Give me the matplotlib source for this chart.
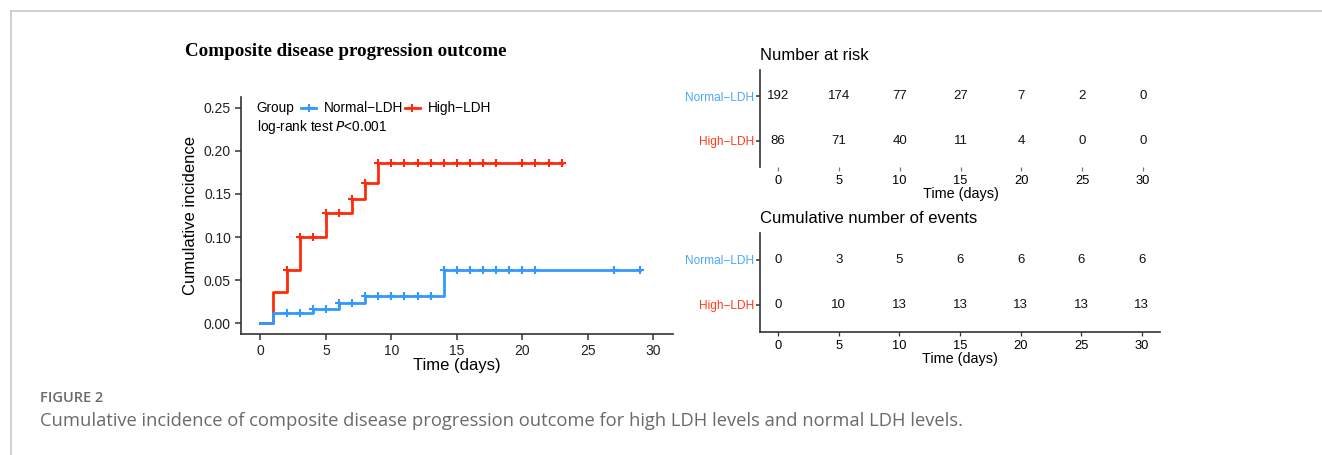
import numpy as np
import matplotlib
matplotlib.use("Agg")
import matplotlib.pyplot as plt
from matplotlib.lines import Line2D

# ---------------- data ----------------
groups = ["Normal\u2212LDH", "High\u2212LDH"]

high_times = [0, 1, 2, 3, 5, 7, 8, 9]
high_cuminc = [0.0, 0.0359, 0.0617, 0.1003, 0.128, 0.1443, 0.163, 0.1863]
high_end = 23
high_censor = [2, 3, 4, 5, 6, 7, 8, 9, 10, 11, 12, 13, 14, 15, 16, 17, 18, 20, 21, 22, 23]

normal_times = [0, 1, 4, 6, 8, 14]
normal_cuminc = [0.0, 0.0114, 0.0169, 0.0235, 0.0320, 0.0617]
normal_end = 29
normal_censor = [2, 3, 4, 5, 6, 7, 8, 9, 10, 11, 12, 13, 14, 15, 16, 17, 18, 19, 20, 21, 27, 29]

table_times = [0, 5, 10, 15, 20, 25, 30]
risk_normal = [192, 174, 77, 27, 7, 2, 0]
risk_high = [86, 71, 40, 11, 4, 0, 0]
events_normal = [0, 3, 5, 6, 6, 6, 6]
events_high = [0, 10, 13, 13, 13, 13, 13]

x_ticks = [0, 5, 10, 15, 20, 25, 30]
y_ticks = [0.00, 0.05, 0.10, 0.15, 0.20, 0.25]

# ---------------- style ----------------
BLUE = "#3399FF"
RED = "#FF2A0A"
BLUE_T = "#4DA6FF"
RED_T = "#FF3A1A"
AX = "#333333"
plt.rcParams["font.family"] = ["Liberation Sans", "DejaVu Sans"]

W, H = 1322, 455
fig = plt.figure(figsize=(W / 100, H / 100), dpi=100)


def px_axes(left, right, top, bottom):
    return fig.add_axes([left / W, 1 - bottom / H, (right - left) / W, (bottom - top) / H])


# frame decoration lines
fig.add_artist(Line2D([10.5 / W, 10.5 / W], [0, 1 - 11 / H], color="#c8c8c8", lw=1.2))
fig.add_artist(Line2D([10.5 / W, 1], [1 - 11 / H, 1 - 11 / H], color="#c8c8c8", lw=1.2))

# ---------------- main plot ----------------
ax = px_axes(240.7, 673, 97, 334)
for times, vals, end, cens, col in [
    (high_times, high_cuminc, high_end, high_censor, RED),
    (normal_times, normal_cuminc, normal_end, normal_censor, BLUE),
]:
    xs = list(times) + [end]
    ys = list(vals) + [vals[-1]]
    ax.step(xs, ys, where="post", color=col, lw=2.0, zorder=3 if col == RED else 4)
    idx = np.searchsorted(times, cens, side="right") - 1
    cy = np.array(vals)[idx]
    ax.plot(cens, cy, ls="none", marker="+", ms=6, mew=1.5, color=col, zorder=5)

ax.set_xlim(-1.5, 31.5)
ax.set_ylim(-0.0125, 0.2625)
ax.set_xticks(x_ticks)
ax.set_yticks(y_ticks)
ax.set_yticklabels([f"{v:.2f}" for v in y_ticks])
for s in ["top", "right"]:
    ax.spines[s].set_visible(False)
for s in ["left", "bottom"]:
    ax.spines[s].set_color(AX)
    ax.spines[s].set_linewidth(1.2)
ax.tick_params(axis="both", labelsize=10, length=4, width=1.1, color=AX, pad=3, labelcolor="#222222")
ax.set_xlabel("Time (days)", fontsize=12, labelpad=0)
ax.set_ylabel("Cumulative incidence", fontsize=12, labelpad=4)

# legend
tr = ax.transAxes
ax.text(0.037, 0.954, "Group", transform=tr, fontsize=9.8, va="center", ha="left")
ax.plot([0.139, 0.175], [0.954, 0.954], transform=tr, color=BLUE, lw=2.0, clip_on=False)
ax.plot([0.157], [0.954], transform=tr, color=BLUE, marker="+", ms=6, mew=1.5, clip_on=False)
ax.text(0.192, 0.954, groups[0], transform=tr, fontsize=9.8, va="center", ha="left")
ax.plot([0.379, 0.415], [0.954, 0.954], transform=tr, color=RED, lw=2.0, clip_on=False)
ax.plot([0.397], [0.954], transform=tr, color=RED, marker="+", ms=6, mew=1.5, clip_on=False)
ax.text(0.433, 0.954, groups[1], transform=tr, fontsize=9.8, va="center", ha="left")
ax.text(0.038, 0.875, "log-rank test $\\it{P}$<0.001", transform=tr, fontsize=9.8, va="center", ha="left")

fig.text(185 / W, 1 - 51.5 / H, "Composite disease progression outcome",
         family=["Liberation Serif"], fontweight="bold", fontsize=13.7, va="center", ha="left")


# ---------------- tables ----------------
def table(axt, title, top_vals, bot_vals, show_bottom):
    axt.set_xlim(-1.5, 31.5)
    axt.set_ylim(0.4, 2.6)
    for t, v in zip(table_times, top_vals):
        axt.text(t, 2, str(v), ha="center", va="center", fontsize=9.5, color="#111111")
    for t, v in zip(table_times, bot_vals):
        axt.text(t, 1, str(v), ha="center", va="center", fontsize=9.5, color="#111111")
    axt.set_yticks([2, 1])
    axt.set_yticklabels(groups, fontsize=8.6)
    for lab, c in zip(axt.get_yticklabels(), [BLUE_T, RED_T]):
        lab.set_color(c)
    axt.set_xticks(x_ticks)
    axt.tick_params(axis="x", labelsize=9.3, length=3, width=0.9, color="#777777", pad=3)
    axt.tick_params(axis="y", length=3, width=1.1, color=AX, pad=1)
    for s in ["top", "right"]:
        axt.spines[s].set_visible(False)
    axt.spines["left"].set_color(AX)
    axt.spines["left"].set_linewidth(1.2)
    axt.spines["bottom"].set_visible(show_bottom)
    axt.spines["bottom"].set_color(AX)
    axt.spines["bottom"].set_linewidth(1.2)
    axt.set_xlabel("Time (days)", fontsize=10.4, labelpad=0)
    axt.set_title(title, fontsize=12, loc="left", pad=7, x=0.0)


t1 = px_axes(760, 1161, 70, 167)
table(t1, "Number at risk", risk_normal, risk_high, False)

t2 = px_axes(760, 1160, 233, 331.7)
table(t2, "Cumulative number of events", events_normal, events_high, True)
t2.tick_params(axis="x", color=AX, length=3)

# ---------------- caption ----------------
fig.text(40 / W, 1 - 398 / H, "FIGURE 2", family=["Open Sans"], fontweight="semibold",
         fontsize=10.5, color="#6a6a6a", va="center", ha="left")
fig.text(40 / W, 1 - 421 / H,
         "Cumulative incidence of composite disease progression outcome for high LDH levels and normal LDH levels.",
         family=["Open Sans"], fontsize=13.2, color="#6a6a6a", va="center", ha="left")

fig.savefig("out.png", dpi=100)
